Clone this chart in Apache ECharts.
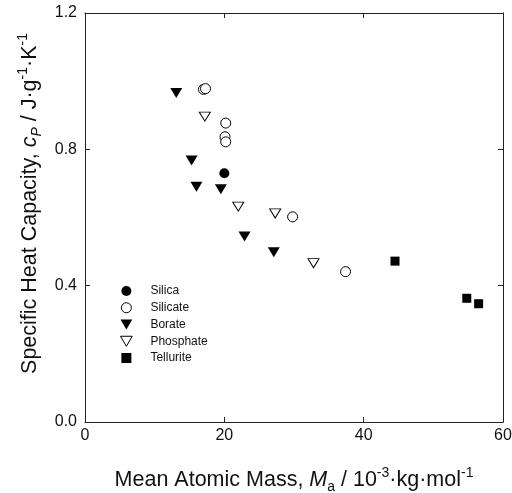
<!DOCTYPE html>
<html><head><meta charset="utf-8">
<script src="https://cdn.jsdelivr.net/npm/echarts@6/dist/echarts.min.js"></script>
<style>html,body{margin:0;padding:0;background:#fff}#c{width:512px;height:493px}</style>
</head><body><div id="c"></div>
<script>
const silica = [[20.0, 0.730]];
const silicate = [[17.0, 0.976], [17.3, 0.978], [20.2, 0.877], [20.1, 0.837], [20.2, 0.822], [29.8, 0.602], [37.4, 0.441]];
const borate = [[13.1, 0.965], [15.3, 0.767], [16.0, 0.690], [19.5, 0.683], [22.9, 0.544], [27.1, 0.498]];
const phosphate = [[17.2, 0.896], [22.0, 0.632], [27.3, 0.612], [32.8, 0.466]];
const tellurite = [[44.5, 0.472], [54.8, 0.363], [56.5, 0.347]];
const xTicks = [0, 20, 40, 60];
const yTicks = [0.0, 0.4, 0.8, 1.2];

const FONT = 'Liberation Sans, Arial, sans-serif';
const downTri = 'path://M0,0 L20,0 L10,17 Z';
const square = 'path://M0,0 L10,0 L10,10 L0,10 Z';
const chart = echarts.init(document.getElementById('c'));
const axBase = {
  axisLine: {onZero: false, lineStyle: {color: '#222', width: 1}},
  axisTick: {inside: true, length: 5, lineStyle: {color: '#222'}},
  splitLine: {show: false}
};
const richT = (subItalic) => ({
  n: {fontSize: 21.5, fontFamily: FONT, color: '#111', lineHeight: 28},
  i: {fontSize: 21.5, fontFamily: FONT, fontStyle: 'italic', color: '#111', lineHeight: 28},
  sub: {fontSize: 14, fontFamily: FONT, fontStyle: subItalic ? 'italic' : 'normal', color: '#111', verticalAlign: 'bottom', lineHeight: 14},
  sup: {fontSize: 14, fontFamily: FONT, color: '#111', verticalAlign: 'top', lineHeight: 14}
});
chart.setOption({
  animation: false,
  backgroundColor: '#fff',
  grid: {left: 85, right: 9, top: 13, bottom: 71, outerBoundsMode: 'none', containLabel: false},
  xAxis: [
    Object.assign({type: 'value', min: xTicks[0], max: xTicks[xTicks.length-1], interval: 20,
      axisLabel: {color: '#111', fontSize: 16, fontFamily: FONT, margin: 6},
      name: '{n|Mean Atomic Mass, }{i|M}{sub|a}{n| / 10}{sup|-3}{n|·kg·mol}{sup|-1}',
      nameLocation: 'middle', nameGap: 44,
      nameTextStyle: {rich: richT(false)}
    }, axBase),
    Object.assign({type: 'value', position: 'top', min: 0, max: 60, interval: 20, axisLabel: {show: false}}, axBase)
  ],
  yAxis: [
    Object.assign({type: 'value', min: yTicks[0], max: yTicks[yTicks.length-1], interval: 0.4,
      axisLabel: {color: '#111', fontSize: 16, fontFamily: FONT, margin: 8, formatter: v => v.toFixed(1)},
      name: '{n|Specific Heat Capacity, }{i|c}{sub|P}{n| / J·g}{sup|-1}{n|·K}{sup|-1}',
      nameLocation: 'middle', nameGap: 39, nameRotate: 90,
      nameTextStyle: {padding: [0, 0, 0, 28], rich: richT(true)}
    }, axBase),
    Object.assign({type: 'value', position: 'right', min: 0, max: 1.2, interval: 0.4, axisLabel: {show: false}}, axBase)
  ],
  legend: {
    orient: 'vertical', left: 120, top: 285, padding: 0, itemWidth: 38, itemHeight: 10, itemGap: 4.75,
    textStyle: {fontSize: 12, fontFamily: FONT, color: '#111'},
    data: [
      {name: 'Silica', icon: 'circle', itemStyle: {color: '#000'}},
      {name: 'Silicate', icon: 'circle', itemStyle: {color: '#fff', borderColor: '#000', borderWidth: 1}},
      {name: 'Borate', icon: downTri, itemStyle: {color: '#000'}},
      {name: 'Phosphate', icon: downTri, itemStyle: {color: '#fff', borderColor: '#000', borderWidth: 1}},
      {name: 'Tellurite', icon: square, itemStyle: {color: '#000'}}
    ]
  },
  series: [
    {name: 'Silica', type: 'scatter', data: silica, symbol: 'circle', symbolSize: 10, itemStyle: {color: '#000', opacity: 1}},
    {name: 'Silicate', type: 'scatter', data: silicate, symbol: 'circle', symbolSize: 10, itemStyle: {color: '#fff', borderColor: '#000', borderWidth: 1, opacity: 1}},
    {name: 'Borate', type: 'scatter', data: borate, symbol: downTri, symbolSize: [12, 10], itemStyle: {color: '#000', opacity: 1}},
    {name: 'Phosphate', type: 'scatter', data: phosphate, symbol: downTri, symbolSize: [11, 9], itemStyle: {color: '#fff', borderColor: '#000', borderWidth: 1, opacity: 1}},
    {name: 'Tellurite', type: 'scatter', data: tellurite, symbol: 'rect', symbolSize: 9, itemStyle: {color: '#000', opacity: 1}}
  ]
});
</script></body></html>
